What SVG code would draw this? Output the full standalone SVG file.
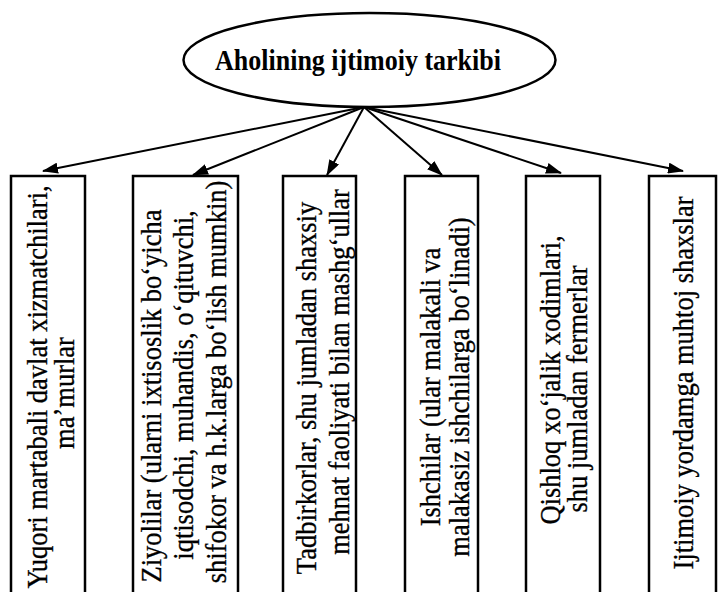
<svg xmlns="http://www.w3.org/2000/svg" width="719" height="592" viewBox="0 0 719 592">
<style>
.bg{fill:#fff}
.box{fill:#fff;stroke:#000;stroke-width:2.5}
.ell{fill:#fff;stroke:#000;stroke-width:2.5}
.title{font-family:"Liberation Serif","Times New Roman",serif;font-weight:bold;font-size:26px;fill:#000}
.t{font-family:"Liberation Serif","Times New Roman",serif;font-size:26.5px;fill:#000;text-anchor:middle;stroke:#000;stroke-width:0.3}
.con line{stroke:#000;stroke-width:2;fill:none;marker-end:url(#ah)}
</style>
<defs>
<marker id="ah" viewBox="0 0 16 11" refX="15" refY="5.5" markerWidth="16" markerHeight="11" markerUnits="userSpaceOnUse" orient="auto">
<path d="M0,0 L16,5.5 L0,11 z" fill="#000"/>
</marker>
</defs>
<rect class="bg" x="0" y="0" width="719" height="592"/>
<g id="root">
<ellipse class="ell" cx="369.5" cy="60" rx="186" ry="47"/>
<text class="title" transform="translate(358,70) scale(1,1.12)" text-anchor="middle">Aholining ijtimoiy tarkibi</text>
</g>
<g id="connectors" class="con">
<line x1="364" y1="107" x2="43" y2="171"/>
<line x1="364" y1="107" x2="193" y2="175"/>
<line x1="364" y1="107" x2="327" y2="175"/>
<line x1="364" y1="107" x2="442" y2="175"/>
<line x1="364" y1="107" x2="561" y2="173"/>
<line x1="364" y1="107" x2="683" y2="171"/>
</g>
<g id="n1">
<rect class="box" x="11" y="176" width="74" height="430"/>
<text class="t" transform="translate(47,387) rotate(-90) scale(1,1.1)">Yuqori martabali davlat xizmatchilari,</text>
<text class="t" transform="translate(74,393) rotate(-90) scale(1,1.1)">maʼmurlar</text>
</g>
<g id="n2">
<rect class="box" x="133" y="176" width="105" height="430"/>
<text class="t" transform="translate(161,396) rotate(-90) scale(1,1.1)">Ziyolilar (ularni ixtisoslik boʻyicha</text>
<text class="t" transform="translate(193,385) rotate(-90) scale(1,1.1)">iqtisodchi, muhandis, oʻqituvchi,</text>
<text class="t" transform="translate(226,382) rotate(-90) scale(1,1.1)">shifokor va h.k.larga boʻlish mumkin)</text>
</g>
<g id="n3">
<rect class="box" x="283" y="176" width="73" height="430"/>
<text class="t" transform="translate(316,388) rotate(-90) scale(1,1.1)">Tadbirkorlar, shu jumladan shaxsiy</text>
<text class="t" transform="translate(349,372) rotate(-90) scale(1,1.1)">mehnat faoliyati bilan mashgʻullar</text>
</g>
<g id="n4">
<rect class="box" x="405" y="176" width="73" height="430"/>
<text class="t" transform="translate(440,387) rotate(-90) scale(1,1.1)">Ishchilar (ular malakali va</text>
<text class="t" transform="translate(469,387) rotate(-90) scale(1,1.1)">malakasiz ishchilarga boʻlinadi)</text>
</g>
<g id="n5">
<rect class="box" x="526" y="176" width="74" height="430"/>
<text class="t" transform="translate(560,380) rotate(-90) scale(1,1.1)">Qishloq xoʻjalik xodimlari,</text>
<text class="t" transform="translate(587,389) rotate(-90) scale(1,1.1)">shu jumladan fermerlar</text>
</g>
<g id="n6">
<rect class="box" x="649" y="176" width="67" height="430"/>
<text class="t" transform="translate(693,383) rotate(-90) scale(1,1.1)">Ijtimoiy yordamga muhtoj shaxslar</text>
</g>
</svg>
